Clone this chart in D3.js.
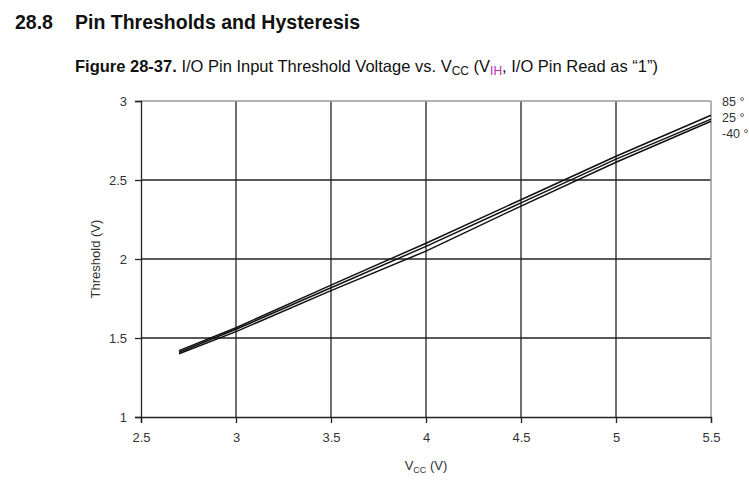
<!DOCTYPE html>
<html><head><meta charset="utf-8">
<script src="https://cdn.jsdelivr.net/npm/d3@7"></script>
<style>
body{margin:0;background:#fff;}
svg{display:block;font-family:"Liberation Sans",Arial,sans-serif;}
</style></head>
<body><svg id="c" width="749" height="485"></svg>
<script>
const vcc = [2.7, 3.0, 3.5, 4.0, 4.5, 5.0, 5.5];
const t85 = [1.42, 1.565, 1.835, 2.10, 2.375, 2.65, 2.91];
const t25 = [1.41, 1.555, 1.818, 2.08, 2.355, 2.632, 2.885];
const tm40 = [1.40, 1.54, 1.80, 2.05, 2.335, 2.612, 2.872];
const seriesLabels = ["85 °", "25 °", "-40 °"];
const xTicks = [2.5, 3, 3.5, 4, 4.5, 5, 5.5];
const yTicks = [1, 1.5, 2, 2.5, 3];

const svg = d3.select("#c");
const x = d3.scaleLinear().domain([2.5, 5.5]).range([141, 711]);
const y = d3.scaleLinear().domain([1, 3]).range([417, 101]);

// titles
const t1 = svg.append("text").attr("x", 15).attr("y", 29).attr("font-size", 19.5).attr("font-weight", "bold").attr("fill", "#111");
t1.append("tspan").text("28.8");
t1.append("tspan").attr("x", 75).text("Pin Thresholds and Hysteresis");

const t2 = svg.append("text").attr("x", 75).attr("y", 72).attr("font-size", 16.5).attr("fill", "#111");
t2.append("tspan").attr("font-weight", "bold").text("Figure 28-37.");
t2.append("tspan").text(" I/O Pin Input Threshold Voltage vs. V");
t2.append("tspan").attr("font-size", 12).attr("dy", 3).text("CC");
t2.append("tspan").attr("dy", -3).text(" (V");
t2.append("tspan").attr("font-size", 12).attr("dy", 3).attr("fill", "#b030b0").text("IH");
t2.append("tspan").attr("dy", -3).text(", I/O Pin Read as “1”)");

// grid
const g = svg.append("g");
g.selectAll(".vg").data(xTicks.slice(1, -1)).join("line")
  .attr("x1", d => x(d)).attr("x2", d => x(d)).attr("y1", y(3)).attr("y2", y(1))
  .attr("stroke", "#222").attr("stroke-width", 1.3);
g.selectAll(".hg").data(yTicks.slice(1, -1)).join("line")
  .attr("x1", x(2.5)).attr("x2", x(5.5)).attr("y1", d => y(d)).attr("y2", d => y(d))
  .attr("stroke", "#222").attr("stroke-width", 1.3);
g.append("line").attr("x1", x(2.5)).attr("x2", x(5.5)).attr("y1", y(3)).attr("y2", y(3)).attr("stroke", "#999").attr("stroke-width", 1.5);
g.append("line").attr("x1", x(5.5)).attr("x2", x(5.5)).attr("y1", y(3)).attr("y2", y(1)).attr("stroke", "#999").attr("stroke-width", 1.5);

// axes
const xa = svg.append("g").attr("transform", `translate(0,${y(1)})`)
  .call(d3.axisBottom(x).tickValues(xTicks).tickSize(6).tickPadding(10).tickFormat(d3.format("")));
const ya = svg.append("g").attr("transform", `translate(${x(2.5)},0)`)
  .call(d3.axisLeft(y).tickValues(yTicks).tickSize(6).tickPadding(8).tickFormat(d3.format("")));
[xa, ya].forEach(a => {
  a.select(".domain").attr("stroke", "#222").attr("stroke-width", 1.3);
  a.selectAll(".tick line").attr("stroke", "#222").attr("stroke-width", 1.3);
  a.selectAll(".tick text").attr("font-size", 13).attr("fill", "#333").attr("font-family", "Liberation Sans, Arial, sans-serif");
});

// axis labels
svg.append("text").attr("transform", `translate(100,${y(2)}) rotate(-90)`).attr("text-anchor", "middle")
  .attr("font-size", 13).attr("fill", "#333").text("Threshold (V)");
const xl = svg.append("text").attr("x", x(4)).attr("y", 470).attr("text-anchor", "middle").attr("font-size", 13).attr("fill", "#333");
xl.append("tspan").text("V");
xl.append("tspan").attr("font-size", 9).attr("dy", 3).text("CC");
xl.append("tspan").attr("dy", -3).text(" (V)");

// lines
const line = d3.line().x((d, i) => x(vcc[i])).y(d => y(d));
[t85, t25, tm40].forEach(s => {
  svg.append("path").datum(s).attr("d", line).attr("fill", "none").attr("stroke", "#111").attr("stroke-width", 1.5);
});

// series labels
svg.selectAll(".sl").data(seriesLabels).join("text")
  .attr("x", 722).attr("y", (d, i) => 106 + i * 16).attr("font-size", 12.5).attr("fill", "#333").text(d => d);
</script></body></html>
